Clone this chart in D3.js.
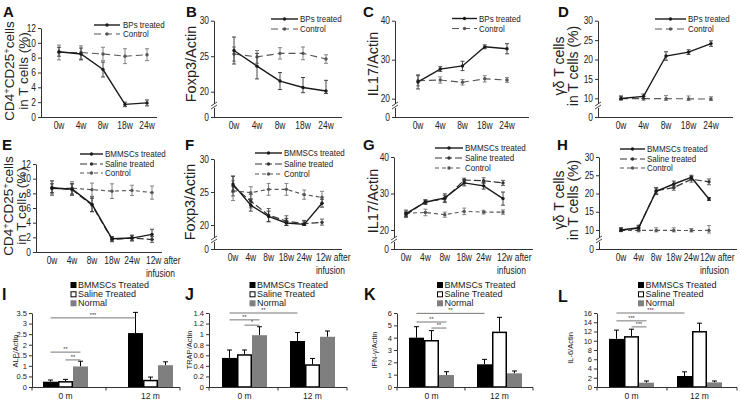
<!DOCTYPE html>
<html><head><meta charset="utf-8">
<script src="https://cdn.jsdelivr.net/npm/d3@7"></script>
<style>
body{margin:0;background:#fff}
svg{display:block}
</style></head><body>
<svg id="c" width="741" height="400"></svg>
<script>
// ---------------- DATA ----------------
const weeks5 = ["0w","4w","8w","18w","24w"];
const weeks6 = ["0w","4w","8w","18w","24w","12w after infusion"];
const legTop = ["BPs treated","Control"];
const legMid = ["BMMSCs treated","Saline treated","Control"];

const tickA = [0,2,4,6,8,10,12];
const tickB = [0,20,25,30];
const tickC = [0,20,30,40];
const tickD = [0,10,15,20,25,30];

const aBPs = [8.8,8.5,6.4,1.7,1.9],      aBPsErr = [0.6,0.8,1.0,0.3,0.4];
const aCtl = [8.7,8.7,8.5,8.2,8.4],      aCtlErr = [1.0,0.9,0.9,1.0,0.8];
const bBPs = [25.8,23.6,21.5,20.6,20.1], bBPsErr = [1.9,1.8,1.2,1.4,1.5];
const bCtl = [25.3,24.9,25.4,25.4,24.6], bCtlErr = [1.0,0.9,0.8,0.9,0.6];
const cBPs = [24.3,27.6,28.4,33.3,32.8], cBPsErr = [1.8,0.6,1.2,0.5,1.3];
const cCtl = [24.6,24.8,24.2,25.1,24.8], cCtlErr = [1.3,0.8,0.7,0.8,0.6];
const dBPs = [9.9,10.5,20.9,21.9,24.1],  dBPsErr = [0.7,0.6,1.1,0.6,0.7];
const dCtl = [9.8,9.8,9.8,9.7,9.6],      dCtlErr = [0.7,0.8,0.9,0.9,0.8];

const eBM  = [8.7,8.6,6.5,1.8,1.9,2.4],  eBMErr  = [0.6,0.7,1.0,0.3,0.4,0.7];
const eSa  = [8.8,8.5,6.4,1.7,1.9,1.7],  eSaErr  = [0.9,0.8,0.9,0.3,0.3,0.4];
const eCtl = [8.7,8.7,8.5,8.3,8.4,8.1],  eCtlErr = [1.0,0.9,0.9,1.0,0.7,0.9];
const fBM  = [26.2,23.0,21.3,20.3,20.1,23.3], fBMErr  = [1.2,0.9,0.8,0.7,0.5,0.6];
const fSa  = [25.9,23.6,21.5,20.6,20.2,20.4], fSaErr  = [1.5,1.0,1.0,0.8,0.5,0.5];
const fCtl = [25.2,24.9,25.4,25.4,24.6,24.2], fCtlErr = [1.5,0.9,0.9,0.9,0.7,0.9];
const gBM  = [24.5,27.6,28.8,32.9,32.1,28.6], gBMErr  = [0.7,0.6,1.1,0.8,0.9,1.8];
const gSa  = [24.1,27.8,28.5,33.7,33.5,32.9], gSaErr  = [0.7,0.5,1.0,0.5,0.8,0.7];
const gCtl = [24.6,24.8,24.2,25.1,24.9,24.9], gCtlErr = [0.9,0.9,0.7,0.9,0.5,0.6];
const hBM  = [10.0,10.6,20.6,22.6,24.4,18.5], hBMErr  = [0.6,0.7,0.9,0.8,0.6,0.4];
const hSa  = [9.9,10.5,20.8,21.6,23.9,23.2],  hSaErr  = [0.6,0.6,0.8,0.7,0.8,0.8];
const hCtl = [9.8,9.8,9.8,9.8,9.7,9.8],       hCtlErr = [0.7,0.8,0.8,0.8,0.7,1.4];

const barGroups = ["0 m","12 m"];
const barSeries = ["BMMSCs Treated","Saline Treated","Normal"];
const tickI = [0,0.5,1,1.5,2,2.5,3,3.5];
const tickJ = [0,0.2,0.4,0.6,0.8,1,1.2,1.4];
const tickK = [0,1,2,3,4,5,6];
const tickL = [0,2,4,6,8,10,12,14,16];
const iBM = [0.25,2.55], iBMErr = [0.08,0.98];
const iSa = [0.28,0.34], iSaErr = [0.08,0.13];
const iNo = [0.97,1.03], iNoErr = [0.25,0.16];
const jBM = [0.55,0.87], jBMErr = [0.15,0.16];
const jSa = [0.62,0.43], jSaErr = [0.08,0.11];
const jNo = [0.98,0.95], jNoErr = [0.16,0.11];
const kBM = [4.0,1.84],  kBMErr = [0.89,0.4];
const kSa = [3.81,4.49], kSaErr = [0.76,1.16];
const kNo = [0.97,1.11], kNoErr = [0.27,0.19];
const lBM = [10.4,2.38], lBMErr = [1.9,0.9];
const lSa = [11.0,12.1], lSaErr = [1.5,1.7];
const lNo = [0.93,1.0],  lNoErr = [0.37,0.3];
// significance brackets: [group, series, group, series, level, label]
const iSig = [["0 m","BMMSCs Treated","12 m","BMMSCs Treated",3.27,"***"],["0 m","BMMSCs Treated","0 m","Normal",1.65,"**"],["0 m","Saline Treated","0 m","Normal",1.28,"**"]];
const jSig = [["0 m","BMMSCs Treated","12 m","BMMSCs Treated",1.40,"**"],["0 m","BMMSCs Treated","0 m","Normal",1.27,"**"],["0 m","Saline Treated","0 m","Normal",1.17,"*"]];
const kSig = [["0 m","BMMSCs Treated","12 m","BMMSCs Treated",5.97,"**"],["0 m","BMMSCs Treated","0 m","Normal",5.27,"**"],["0 m","Saline Treated","0 m","Normal",4.78,"**"]];
const lSig = [["0 m","BMMSCs Treated","12 m","BMMSCs Treated",16.0,"***"],["0 m","BMMSCs Treated","0 m","Normal",14.3,"***"],["0 m","Saline Treated","0 m","Normal",13.0,"***"]];

// ---------------- STYLE ----------------
const svg = d3.select("#c");
const FR = "'Liberation Sans',Arial,sans-serif";
const INK = "#222";
const STY = {
  main: {stroke:"#1a1a1a", dash:null,  w:1.4, err:"#333"},
  ctl1: {stroke:"#555",    dash:"7,4", w:1.1, err:"#777"},
  sal:  {stroke:"#333",    dash:"7,3", w:1.2, err:"#555"},
  ctl2: {stroke:"#555",    dash:"4,3", w:1.1, err:"#777"}
};
const NARROW = 0.84; // horizontal squeeze for the condensed-looking labels

function letter(t,x,y,size){
  svg.append("text").attr("x",x).attr("y",y).text(t)
    .attr("font-family",FR).attr("font-weight","bold").attr("font-size",size).attr("fill","#111");
}
function title(lines,xs,cy,size){
  lines.forEach((ln,i)=>{
    const t = svg.append("text").attr("transform",`translate(${xs[i]},${cy}) rotate(-90)`)
      .attr("text-anchor","middle").attr("font-family",FR).attr("font-size",size).attr("fill",INK);
    if (ln.includes("+")) {
      const parts = ln.split("+");
      parts.forEach((pt,k)=>{
        if (k>0) t.append("tspan").text("+").attr("dy",-4).attr("font-size",size*0.7);
        t.append("tspan").text(pt).attr("dy",k>0?4:0);
      });
    } else t.text(ln);
  });
}

function linePanel(p){
  const g = svg.append("g");
  const x = d3.scalePoint().domain(p.cats).range(p.xr);
  const y = d3.scaleLinear().domain(p.yd).range(p.yr);
  const y0 = y(0);
  const ya = g.append("g").attr("transform",`translate(${p.ax},0)`)
    .call(d3.axisLeft(y).tickValues(p.ticks).tickSize(3).tickSizeOuter(0).tickPadding(2).tickFormat(d=>String(d)));
  ya.select(".domain").attr("stroke","#333");
  ya.selectAll(".tick line").attr("stroke","#333");
  ya.selectAll("text").attr("font-family",FR).attr("font-size",10).attr("fill",INK).classed("nar",true);
  g.append("line").attr("x1",p.ax).attr("x2",p.axEnd).attr("y1",y0+0.5).attr("y2",y0+0.5).attr("stroke","#333");
  if (p.brk){
    const yb = y0 - p.brk;
    g.append("rect").attr("x",p.ax-3).attr("y",yb-3).attr("width",6).attr("height",4).attr("fill","#fff");
    [0,3].forEach(k=>g.append("line").attr("x1",p.ax-3).attr("y1",yb+k-1).attr("x2",p.ax+3).attr("y2",yb+k-5)
      .attr("stroke","#333").attr("stroke-width",0.9));
  }
  // x labels
  const xl = g.append("g").attr("font-family",FR).attr("font-size",10).attr("fill",INK);
  p.cats.forEach(c=>{
    if (c.includes(" after ")){
      const [a,b] = c.split(" after ");
      xl.append("text").attr("x",x(c)-p.lo).attr("y",y0+12).text(a+" after").classed("nar",true);
      xl.append("text").attr("x",x(c)-p.lo).attr("y",y0+25).text(b).classed("nar",true);
    } else {
      xl.append("text").attr("x",x(c)).attr("y",y0+12).attr("text-anchor","middle").text(c).classed("nar",true);
    }
  });
  // series (draw in reverse so first is on top)
  p.series.slice().reverse().forEach(s=>{
    const st = STY[s.st];
    const eg = g.append("g").attr("stroke",st.err).attr("stroke-width",0.9);
    s.v.forEach((v,i)=>{
      const cx = x(p.cats[i]), e = s.e[i];
      eg.append("line").attr("x1",cx).attr("x2",cx).attr("y1",y(v-e)).attr("y2",y(v+e));
      eg.append("line").attr("x1",cx-2).attr("x2",cx+2).attr("y1",y(v-e)).attr("y2",y(v-e));
      eg.append("line").attr("x1",cx-2).attr("x2",cx+2).attr("y1",y(v+e)).attr("y2",y(v+e));
    });
    const line = d3.line().x((d,i)=>x(p.cats[i])).y(d=>y(d));
    g.append("path").datum(s.v).attr("d",line).attr("fill","none").attr("stroke",st.stroke)
      .attr("stroke-width",st.w).attr("stroke-dasharray",st.dash);
    g.selectAll(null).data(s.v).enter().append("circle")
      .attr("cx",(d,i)=>x(p.cats[i])).attr("cy",d=>y(d)).attr("r",1.7).attr("fill",st.stroke);
  });
  // legend
  p.series.forEach((s,i)=>{
    const st = STY[s.st], ly = p.leg.ys[i];
    g.append("line").attr("x1",p.leg.x1).attr("x2",p.leg.x2).attr("y1",ly).attr("y2",ly)
      .attr("stroke",st.stroke).attr("stroke-width",st.w).attr("stroke-dasharray",st.dash);
    g.append("circle").attr("cx",(p.leg.x1+p.leg.x2)/2).attr("cy",ly).attr("r",1.7).attr("fill",st.stroke);
    g.append("text").attr("x",p.leg.tx).attr("y",ly).attr("dy","0.35em").text(s.name)
      .attr("font-family",FR).attr("font-size",9.5).attr("fill",INK).classed("nar",true);
  });
  letter(p.letter,p.lp[0],p.lp[1],15);
  title(p.title,p.tx,p.ty,p.ts);
}

function barPanel(p){
  const g = svg.append("g");
  const xg = d3.scalePoint().domain(barGroups).range(p.gc);
  const xs = d3.scaleBand().domain(barSeries).range([-22.5,22.5]);
  const y = d3.scaleLinear().domain([0,p.ymax]).range([387,313]);
  const fills = {"BMMSCs Treated":"#000","Saline Treated":"#fff","Normal":"#7f7f7f"};
  p.series.forEach(s=>{
    s.v.forEach((v,gi)=>{
      const bx = xg(barGroups[gi]) + xs(s.name), bw = xs.bandwidth();
      const cx = bx + bw/2;
      const e = s.e[gi];
      g.append("line").attr("x1",cx).attr("x2",cx).attr("y1",y(v)).attr("y2",y(v+e)).attr("stroke","#000").attr("stroke-width",1);
      g.append("line").attr("x1",cx-2.5).attr("x2",cx+2.5).attr("y1",y(v+e)).attr("y2",y(v+e)).attr("stroke","#000").attr("stroke-width",1);
      if (s.name==="Saline Treated")
        g.append("rect").attr("x",bx+0.75).attr("y",y(v)+0.75).attr("width",bw-1.5).attr("height",y(0)-y(v)-0.75)
          .attr("fill","#fff").attr("stroke","#000").attr("stroke-width",1.5);
      else
        g.append("rect").attr("x",bx).attr("y",y(v)).attr("width",bw).attr("height",y(0)-y(v)).attr("fill",fills[s.name]);
    });
  });
  const ya = g.append("g").attr("transform",`translate(${p.ax},0)`)
    .call(d3.axisLeft(y).tickValues(p.ticks).tickSize(3).tickSizeOuter(0).tickPadding(2).tickFormat(d=>String(d)));
  ya.select(".domain").attr("stroke","#333");
  ya.selectAll(".tick line").attr("stroke","#333");
  ya.selectAll("text").attr("font-family",FR).attr("font-size",7.5).attr("fill",INK);
  const y0 = y(0)+0.5;
  g.append("line").attr("x1",p.ax).attr("x2",p.axEnd).attr("y1",y0).attr("y2",y0).attr("stroke","#333");
  [p.ax,(p.ax+p.axEnd)/2,p.axEnd].forEach(tx=>g.append("line").attr("x1",tx).attr("x2",tx).attr("y1",y0).attr("y2",y0+3).attr("stroke","#333"));
  barGroups.forEach(gr=>g.append("text").attr("x",xg(gr)).attr("y",399).attr("text-anchor","middle").text(gr)
      .attr("font-family",FR).attr("font-size",8.5).attr("fill",INK));
  // significance
  p.sig.forEach(sg=>{
    const xa = xg(sg[0])+xs(sg[1])+xs.bandwidth()/2, xb = xg(sg[2])+xs(sg[3])+xs.bandwidth()/2;
    const yy = y(sg[4]);
    g.append("line").attr("x1",xa).attr("x2",xb).attr("y1",yy).attr("y2",yy).attr("stroke","#777").attr("stroke-width",1);
    g.append("text").attr("x",(xa+xb)/2).attr("y",yy-1.2).attr("text-anchor","middle").text(sg[5])
      .attr("font-family",FR).attr("font-size",5.5).attr("fill","#333");
  });
  // legend
  barSeries.forEach((nm,i)=>{
    const ly = [285,294.3,303.3][i];
    if (nm==="Saline Treated")
      g.append("rect").attr("x",p.legX+0.5).attr("y",ly-2.5).attr("width",5).attr("height",5).attr("fill","#fff").attr("stroke","#000").attr("stroke-width",1);
    else
      g.append("rect").attr("x",p.legX).attr("y",ly-3).attr("width",6).attr("height",6).attr("fill",fills[nm]);
    g.append("text").attr("x",p.legX+7.5).attr("y",ly).attr("dy","0.35em").text(nm)
      .attr("font-family",FR).attr("font-size",9).attr("fill",INK);
  });
  letter(p.letter,p.lp[0],p.lp[1],16);
  title([p.title],[p.tx],p.ty,7.5);
}

// ---------------- PANELS ----------------
linePanel({letter:"A",lp:[3,17],cats:weeks5,ax:41,axEnd:157,xr:[59,147],yd:[0,12],yr:[117,28],ticks:tickA,brk:0,
  title:["CD4+CD25+cells","in T cells (%)"],tx:[14,28],ty:71,ts:13.5,
  series:[{name:legTop[0],v:aBPs,e:aBPsErr,st:"main"},{name:legTop[1],v:aCtl,e:aCtlErr,st:"ctl1"}],
  leg:{x1:94,x2:120,tx:123,ys:[25,34]}});
linePanel({letter:"B",lp:[186,17],cats:weeks5,ax:214,axEnd:342,xr:[234,326],yd:[0,20,30],yr:[117,91.7,20.7],ticks:tickB,brk:10,
  title:["Foxp3/Actin"],tx:[196],ty:64,ts:14.5,
  series:[{name:legTop[0],v:bBPs,e:bBPsErr,st:"main"},{name:legTop[1],v:bCtl,e:bCtlErr,st:"ctl1"}],
  leg:{x1:271,x2:298,tx:300,ys:[19,29]}});
linePanel({letter:"C",lp:[363,17],cats:weeks5,ax:395,axEnd:529,xr:[418,507],yd:[0,20,40],yr:[117,98.7,20.7],ticks:tickC,brk:10,
  title:["IL17/Actin"],tx:[378],ty:64,ts:14.5,
  series:[{name:legTop[0],v:cBPs,e:cBPsErr,st:"main"},{name:legTop[1],v:cCtl,e:cCtlErr,st:"ctl1"}],
  leg:{x1:452,x2:477,tx:479,ys:[18.5,28.5]}});
linePanel({letter:"D",lp:[558,17],cats:weeks5,ax:598,axEnd:733,xr:[621,711],yd:[0,10,30],yr:[117,98.3,20.7],ticks:tickD,brk:10,
  title:["γδ T cells","in T cells (%)"],tx:[564,578],ty:66,ts:14,
  series:[{name:legTop[0],v:dBPs,e:dBPsErr,st:"main"},{name:legTop[1],v:dCtl,e:dCtlErr,st:"ctl1"}],
  leg:{x1:655,x2:686,tx:688,ys:[19,29]}});

linePanel({letter:"E",lp:[2,150],cats:weeks6,ax:36,axEnd:162,xr:[52,152],yd:[0,12],yr:[252,164],ticks:tickA,brk:0,lo:6,
  title:["CD4+CD25+cells","in T cells (%)"],tx:[13,26],ty:206,ts:13.5,
  series:[{name:legMid[0],v:eBM,e:eBMErr,st:"main"},{name:legMid[1],v:eSa,e:eSaErr,st:"sal"},{name:legMid[2],v:eCtl,e:eCtlErr,st:"ctl2"}],
  leg:{x1:80,x2:103,tx:105,ys:[154,164,173]}});
linePanel({letter:"F",lp:[185,150],cats:weeks6,ax:214,axEnd:342,xr:[233,322],yd:[0,20,30],yr:[249,225,159],ticks:tickB,brk:8,lo:6,
  title:["Foxp3/Actin"],tx:[195],ty:202,ts:14.5,
  series:[{name:legMid[0],v:fBM,e:fBMErr,st:"main"},{name:legMid[1],v:fSa,e:fSaErr,st:"sal"},{name:legMid[2],v:fCtl,e:fCtlErr,st:"ctl2"}],
  leg:{x1:255,x2:282,tx:284,ys:[153,164,174]}});
linePanel({letter:"G",lp:[363,150],cats:weeks6,ax:394,axEnd:533,xr:[406,503],yd:[0,20,40],yr:[249,230,157],ticks:tickC,brk:8,lo:6,
  title:["IL17/Actin"],tx:[378],ty:201,ts:14.5,
  series:[{name:legMid[0],v:gBM,e:gBMErr,st:"main"},{name:legMid[1],v:gSa,e:gSaErr,st:"sal"},{name:legMid[2],v:gCtl,e:gCtlErr,st:"ctl2"}],
  leg:{x1:435,x2:463,tx:465,ys:[148,158,168]}});
linePanel({letter:"H",lp:[557,150],cats:weeks6,ax:599,axEnd:737,xr:[621,709],yd:[0,10,30],yr:[249,230,157],ticks:tickD,brk:8,lo:9,
  title:["γδ T cells","in T cells (%)"],tx:[564,578],ty:200,ts:14,
  series:[{name:legMid[0],v:hBM,e:hBMErr,st:"main"},{name:legMid[1],v:hSa,e:hSaErr,st:"sal"},{name:legMid[2],v:hCtl,e:hCtlErr,st:"ctl2"}],
  leg:{x1:620,x2:645,tx:647,ys:[149,159,168]}});

function barSer(bm,bmE,sa,saE,no,noE){
  return [{name:barSeries[0],v:bm,e:bmE},{name:barSeries[1],v:sa,e:saE},{name:barSeries[2],v:no,e:noE}];
}
barPanel({letter:"I",lp:[2,300],ax:32,axEnd:180,gc:[65.5,150.5],ymax:3.5,ticks:tickI,title:"ALP/Actin",tx:18,ty:351,
  series:barSer(iBM,iBMErr,iSa,iSaErr,iNo,iNoErr),sig:iSig,legX:70.5});
barPanel({letter:"J",lp:[185,300],ax:209,axEnd:347,gc:[244.5,312.5],ymax:1.4,ticks:tickJ,title:"TRAP/Actin",tx:192,ty:350,
  series:barSer(jBM,jBMErr,jSa,jSaErr,jNo,jNoErr),sig:jSig,legX:249.5});
barPanel({letter:"K",lp:[364,300],ax:397,axEnd:533,gc:[431.5,499.5],ymax:6,ticks:tickK,title:"IFN-γ/Actin",tx:377,ty:350,
  series:barSer(kBM,kBMErr,kSa,kSaErr,kNo,kNoErr),sig:kSig,legX:437});
barPanel({letter:"L",lp:[558,302],ax:597,axEnd:737,gc:[631.5,699.5],ymax:16,ticks:tickL,title:"IL-6/Actin",tx:573,ty:348,
  series:barSer(lBM,lBMErr,lSa,lSaErr,lNo,lNoErr),sig:lSig,legX:638});

// condense the tick / legend labels of the line panels
svg.selectAll("text.nar").each(function(){
  const L = this.getComputedTextLength();
  d3.select(this).attr("textLength",L*NARROW).attr("lengthAdjust","spacingAndGlyphs");
});
</script></body></html>
